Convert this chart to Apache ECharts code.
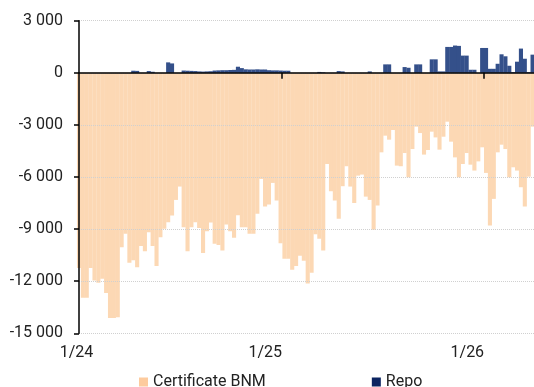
<!DOCTYPE html>
<html><head><meta charset="utf-8">
<script src="https://cdn.jsdelivr.net/npm/echarts@6/dist/echarts.min.js"></script>
<style>html,body{margin:0;padding:0;background:#fff}#c{width:534px;height:387px}</style>
</head><body><div id="c"></div>
<script>
// Weekly observations starting Monday 1 Jan 2024
const firstWeek = '2024-01-01';
const weekCount = 118;
const seriesNames = ['Certificate BNM', 'Repo'];

const certificateBNM = [
  -11245,-12950,-12950,-11245,-11955,-12090,-11860,-12680,-14120,-14120,
  -14080,-10040,-9270,-10940,-10800,-11190,-9980,-10270,-9180,-9980,
  -11130,-9465,-8985,-8600,-8220,-7320,-6550,-8890,-10270,-8890,
  -8600,-8930,-10380,-9120,-8620,-9850,-9920,-10230,-8735,-9120,
  -9500,-8200,-8890,-8890,-9270,-9270,-8120,-6110,-7700,-7590,
  -6340,-7360,-9810,-10710,-10710,-11340,-11130,-10540,-10820,-12130,
  -11520,-9290,-9560,-10230,-5250,-6820,-7360,-8410,-6530,-5380,
  -6550,-7490,-5920,-5860,-7130,-7320,-9040,-7640,-4580,-3620,
  -3850,-3295,-5345,-5380,-4620,-6015,-4390,-3100,-3470,-4710,
  -4445,-3390,-3720,-4425,-3680,-2815,-3965,-4870,-6015,-5250,
  -4620,-5290,-5630,-5100,-4290,-5765,-8795,-7260,-4580,-4140,
  -4390,-6015,-5440,-5630,-6590,-7700,-5980,-3100
];
const repo = [
  0,0,0,0,0,0,0,0,0,0,
  0,0,0,0,120,110,0,0,100,60,
  0,0,0,600,540,0,0,130,120,110,
  100,80,70,80,90,130,140,150,150,160,
  170,350,270,200,190,190,200,190,190,150,
  140,140,130,120,120,0,0,0,0,0,
  0,0,50,30,0,0,0,100,80,0,
  0,0,0,0,0,80,0,0,0,485,
  485,0,0,0,330,290,0,485,485,0,
  0,775,775,80,80,1490,1490,1570,1550,990,
  990,175,175,0,1430,1430,230,230,520,1065,
  950,405,40,640,1395,810,40,1045
];
const xTickDates = ['2024-01-01', '2025-01-01', '2026-01-01'];
const xTickLabels = ['1/24', '1/25', '1/26'];
const xEndDate = '2026-04-01';
const yMin = -15000, yMax = 3000, yStep = 3000;

// helpers: days since the first week
const DAY = 86400000;
function dayNum(s) { const p = s.split('-').map(Number); return Math.round((Date.UTC(p[0], p[1] - 1, p[2]) - Date.UTC(2024, 0, 1)) / DAY); }
const weekDays = [];
for (let i = 0; i < weekCount; i++) weekDays.push(dayNum(firstWeek) + i * 7);
const tickDays = xTickDates.map(dayNum);
const xMax = dayNum(xEndDate) + 0.6;

const certData = weekDays.map((d, i) => [d, certificateBNM[i]]);
const repoData = weekDays.map((d, i) => [d, repo[i]]);

function fmtY(v) {
  if (v === 0) return '0';
  const s = String(Math.abs(v)).replace(/\B(?=(\d{3})+(?!\d))/g, ' ');
  return (v < 0 ? '-' : '') + s;
}

const font = 'Roboto';
const chart = echarts.init(document.getElementById('c'), null, {renderer: 'canvas'});
chart.setOption({
  animation: false,
  backgroundColor: '#ffffff',
  textStyle: {fontFamily: font},
  grid: {left: 79, right: 0, top: 20.7, bottom: 53.7, containLabel: false, outerBoundsMode: 'none'},
  legend: {
    left: 134, top: 369,
    itemWidth: 9, itemHeight: 9, itemGap: 106,
    icon: 'rect',
    textStyle: {fontFamily: font, fontSize: 16, color: '#222'},
    data: [
      {name: seriesNames[0], itemStyle: {color: '#FDCB9E', opacity: 1}},
      {name: seriesNames[1], itemStyle: {color: '#0C2461', opacity: 1}}
    ]
  },
  xAxis: [
    {
      type: 'value', min: 0, max: xMax, position: 'bottom',
      axisLine: {show: false, onZero: false},
      axisTick: {show: false},
      splitLine: {show: false},
      axisLabel: {
        show: true,
        customValues: tickDays,
        margin: 12,
        fontFamily: font, fontSize: 16, color: '#222',
        formatter: function (value) {
          const idx = tickDays.indexOf(Math.round(value));
          const lbl = idx >= 0 ? xTickLabels[idx] : '';
          return (idx === 0 ? '{a|' : '{b|') + lbl + '}';
        },
        rich: {
          a: {fontFamily: font, fontSize: 16, color: '#222', padding: [0, 5, 0, 0]},
          b: {fontFamily: font, fontSize: 16, color: '#222', padding: [0, 33, 0, 0]}
        }
      }
    },
    {
      type: 'value', min: 0, max: xMax, position: 'top', z: 10,
      axisLine: {show: true, onZero: true, lineStyle: {color: '#000', width: 1.5}},
      axisTick: {show: true, inside: true, length: 6, customValues: tickDays.slice(1), lineStyle: {color: '#000', width: 1.5}},
      axisLabel: {show: false},
      splitLine: {show: false}
    }
  ],
  yAxis: {
    type: 'value', min: yMin, max: yMax, interval: yStep, z: 10,
    axisLine: {show: true, onZero: false, lineStyle: {color: '#000', width: 1.5}},
    axisTick: {show: true, length: 5, lineStyle: {color: '#000', width: 1.5}},
    axisLabel: {margin: 16, fontFamily: font, fontSize: 16, color: '#222', formatter: fmtY},
    splitLine: {show: true, lineStyle: {color: '#d0d0d0', type: [1, 1], width: 1}}
  },
  series: [
    {
      name: seriesNames[0], type: 'bar', stack: 'total', xAxisIndex: 0,
      data: certData, barWidth: 4.1,
      itemStyle: {color: '#FCD8B4'},
      emphasis: {disabled: true}
    },
    {
      name: seriesNames[1], type: 'bar', stack: 'total', xAxisIndex: 0,
      data: repoData, barWidth: 4.1,
      itemStyle: {color: '#34508A'},
      emphasis: {disabled: true}
    }
  ]
});
</script></body></html>
